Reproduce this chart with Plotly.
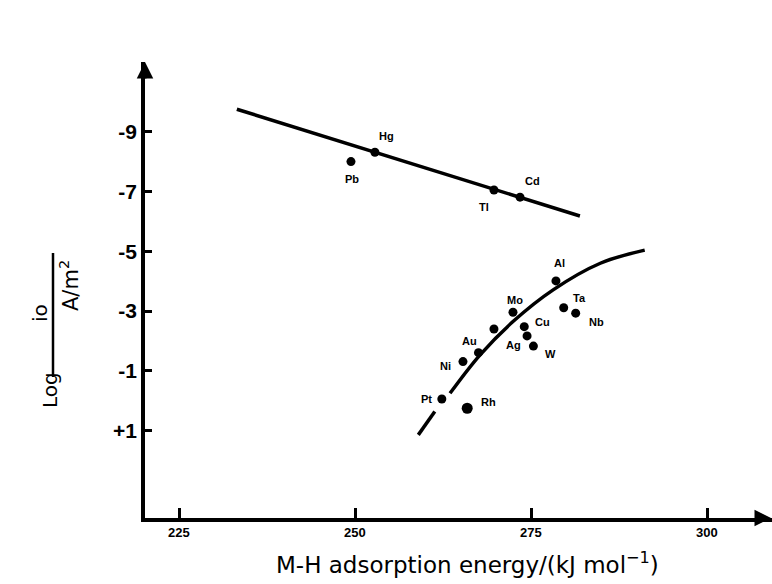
import plotly.graph_objects as go

# ---- data -------------------------------------------------------------
# sp metals (upper branch)
upper_metals = ["Hg", "Pb", "Tl", "Cd"]
upper_energy = [252.8, 249.4, 269.7, 273.4]
upper_log_i0 = [-8.31, -8.00, -7.05, -6.81]

# transition / other metals (lower branch); one unlabelled point
lower_metals = ["Al", "Ta", "Nb", "Mo", "Cu", "Ag", "W", "", "Au", "Ni", "Pt", "Rh"]
lower_energy = [278.5, 279.6, 281.3, 272.4, 274.0, 274.4, 275.3, 269.7, 267.5, 265.3, 262.3, 265.9]
lower_log_i0 = [-4.01, -3.11, -2.93, -2.96, -2.48, -2.17, -1.83, -2.40, -1.61, -1.31, -0.06, 0.25]

# trend lines
upper_fit_energy = [233.2, 281.9]
upper_fit_log_i0 = [-9.75, -6.18]
lower_fit_energy = [258.96, 261.3, None, 263.46, 267.7, 272.4, 278.1, 284.8, 291.1]
lower_fit_log_i0 = [1.14, 0.36, None, -0.25, -1.53, -2.65, -3.71, -4.60, -5.04]

# axis ticks
x_tickvals = [225, 250, 275, 300]
x_ticktext = ["225", "250", "275", "300"]
y_tickvals = [-9, -7, -5, -3, -1, 1]
y_ticktext = ["-9", "-7", "-5", "-3", "-1", "+1"]

# ---- layout geometry ----------------------------------------------------
W, H = 772, 584
L, R, T, B = 145, 0, 62, 66
x_range = [220.16, 309.17]
y_range = [3.92, -11.33]          # reversed: +1 at the bottom, -9 near the top

def px(xp):
    return (xp - L) / (W - L - R)

def py(yp):
    return (H - B - yp) / (H - B - T)

# label offsets in pixels (dx right, dy down)
label_offsets = {
    "Hg": (12, -16), "Pb": (1, 17), "Tl": (-10, 17), "Cd": (12, -16),
    "Al": (4, -18), "Ta": (16, -10), "Nb": (21, 9), "Mo": (2, -12),
    "Cu": (18, -5), "Ag": (-14, 9), "W": (17, 8), "Au": (-9, -12),
    "Ni": (-17, 4), "Pt": (-15, 0), "Rh": (21, -6),
}

SANS = "Liberation Sans, Arial, sans-serif"
LABEL_FONT = dict(family=SANS, size=11, color="black", weight="bold")
TITLE_FAMILY = "DejaVu Sans, sans-serif"

fig = go.Figure()

fig.add_trace(go.Scatter(
    x=upper_fit_energy, y=upper_fit_log_i0, mode="lines",
    line=dict(color="black", width=3.5), hoverinfo="skip", showlegend=False))
fig.add_trace(go.Scatter(
    x=lower_fit_energy, y=lower_fit_log_i0, mode="lines",
    line=dict(color="black", width=3.5, shape="spline", smoothing=1.0),
    connectgaps=False, hoverinfo="skip", showlegend=False))

fig.add_trace(go.Scatter(
    x=upper_energy, y=upper_log_i0, mode="markers",
    marker=dict(color="black", size=9, opacity=1, line=dict(width=0)),
    text=upper_metals, showlegend=False))
lower_sizes = [11 if m == "Rh" else 9 for m in lower_metals]
fig.add_trace(go.Scatter(
    x=lower_energy, y=lower_log_i0, mode="markers",
    marker=dict(color="black", size=lower_sizes, opacity=1, line=dict(width=0)),
    text=lower_metals, showlegend=False))

annotations = []
for names, xs, ys in ((upper_metals, upper_energy, upper_log_i0),
                      (lower_metals, lower_energy, lower_log_i0)):
    for name, xv, yv in zip(names, xs, ys):
        if not name:
            continue
        dx, dy = label_offsets[name]
        annotations.append(dict(
            x=xv, y=yv, xref="x", yref="y", text=name, showarrow=False,
            xanchor="center", yanchor="middle",
            xshift=dx, yshift=-dy, font=LABEL_FONT))

# x tick labels, placed on the x scale just below the axis line
for tv, tt in zip(x_tickvals, x_ticktext):
    annotations.append(dict(
        x=tv, y=py(532), xref="x", yref="paper", text=tt, showarrow=False,
        xanchor="center", yanchor="middle",
        font=dict(family=SANS, size=13, color="black", weight="bold")))

def text_at(xp, yp, text, size, angle=0):
    return dict(x=px(xp), y=py(yp), xref="paper", yref="paper", text=text,
                textangle=angle, showarrow=False, xanchor="center", yanchor="middle",
                font=dict(family=TITLE_FAMILY, size=size, color="black"))

# x-axis title
annotations.append(text_at(467, 563, "M-H adsorption energy/(kJ mol<sup>\u22121</sup>)", 23))

# y-axis title, written as a fraction: Log (i0 / (A/m^2))
annotations.append(text_at(50, 390, "Log", 20, -90))
annotations.append(text_at(40, 313, "io", 20, -90))
annotations.append(text_at(69, 286, "A/m<sup>2</sup>", 21, -90))

# arrow heads on both axes
annotations.append(dict(
    x=1, y=0, xref="paper", yref="paper", ax=-18, ay=0, axref="pixel", ayref="pixel",
    text="", showarrow=True, arrowhead=2, arrowsize=1.1, arrowwidth=3,
    arrowcolor="black", standoff=0))
annotations.append(dict(
    x=0, y=1, xref="paper", yref="paper", ax=0, ay=18, axref="pixel", ayref="pixel",
    text="", showarrow=True, arrowhead=2, arrowsize=1.1, arrowwidth=3,
    arrowcolor="black", standoff=0))

shapes = [dict(
    type="line", xref="paper", yref="paper",
    x0=px(53), x1=px(53), y0=py(253), y1=py(377),
    line=dict(color="black", width=2.5))]

fig.update_layout(
    width=W, height=H,
    margin=dict(l=L, r=R, t=T, b=B, pad=0),
    paper_bgcolor="white", plot_bgcolor="white",
    showlegend=False,
    annotations=annotations, shapes=shapes,
    xaxis=dict(
        range=x_range, tickmode="array", tickvals=x_tickvals,
        showticklabels=False, ticks="inside", ticklen=10,
        tickwidth=2.5, tickcolor="black", showline=True, linewidth=3.5,
        linecolor="black", showgrid=False, zeroline=False),
    yaxis=dict(
        range=y_range, tickmode="array", tickvals=y_tickvals, ticktext=y_ticktext,
        ticks="inside",
        ticklen=7, tickwidth=2.5, tickcolor="black", showline=True, linewidth=3.5,
        linecolor="black", showgrid=False, zeroline=False,
        tickfont=dict(family=SANS, size=21, color="black", weight="bold")),
)

fig.write_html("out.html")
